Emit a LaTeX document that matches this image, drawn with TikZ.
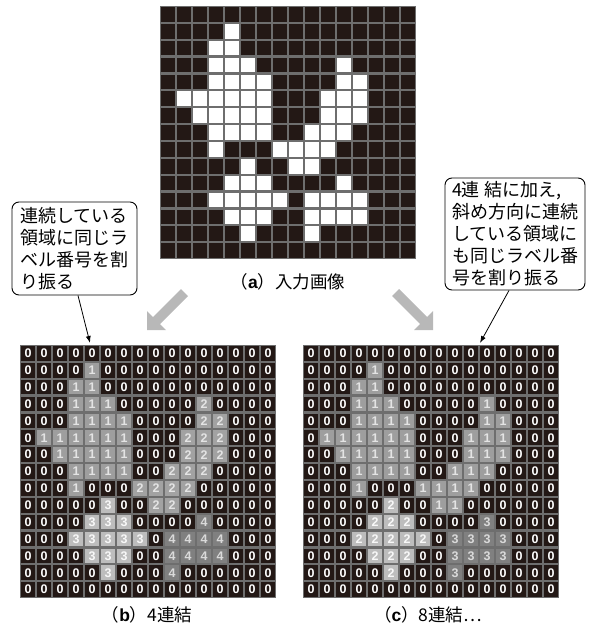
\documentclass[tikz,border=0pt]{standalone}
\usepackage{fontspec}
\setmainfont{Liberation Sans}
\newfontfamily\jp{Noto Sans CJK JP}
\newfontfamily\numf{Liberation Sans}
\usetikzlibrary{arrows.meta}
\definecolor{ink}{HTML}{231815}
\definecolor{gline}{HTML}{6E6E6E}
\definecolor{garrow}{HTML}{B8B8B8}
% (b) fills / texts
\definecolor{bf0}{HTML}{231815}\definecolor{bt0}{HTML}{FFFFFF}
\definecolor{bf1}{HTML}{9E9E9E}\definecolor{bt1}{HTML}{E4E4E4}
\definecolor{bf2}{HTML}{A2A2A2}\definecolor{bt2}{HTML}{E4E4E4}
\definecolor{bf3}{HTML}{BDBDBD}\definecolor{bt3}{HTML}{F8F8F8}
\definecolor{bf4}{HTML}{808080}\definecolor{bt4}{HTML}{DADADA}
% (c) fills / texts
\definecolor{cf0}{HTML}{231815}\definecolor{ct0}{HTML}{FFFFFF}
\definecolor{cf1}{HTML}{9E9E9E}\definecolor{ct1}{HTML}{E4E4E4}
\definecolor{cf2}{HTML}{BDBDBD}\definecolor{ct2}{HTML}{F8F8F8}
\definecolor{cf3}{HTML}{808080}\definecolor{ct3}{HTML}{DADADA}
\def\cw{16}\def\ch{16.87}
\def\griddata{%
{0,0,0,0,0,0,0,0,0,0,0,0,0,0,0,0},%
{0,0,0,0,1,0,0,0,0,0,0,0,0,0,0,0},%
{0,0,0,1,1,0,0,0,0,0,0,0,0,0,0,0},%
{0,0,0,1,1,1,0,0,0,0,0,2,0,0,0,0},%
{0,0,0,1,1,1,1,0,0,0,0,2,2,0,0,0},%
{0,1,1,1,1,1,1,0,0,0,2,2,2,0,0,0},%
{0,0,1,1,1,1,1,0,0,0,2,2,2,0,0,0},%
{0,0,0,1,1,1,1,0,0,2,2,2,0,0,0,0},%
{0,0,0,1,0,0,0,2,2,2,2,0,0,0,0,0},%
{0,0,0,0,0,3,0,0,2,2,0,0,0,0,0,0},%
{0,0,0,0,3,3,3,0,0,0,0,4,0,0,0,0},%
{0,0,0,3,3,3,3,3,0,4,4,4,4,0,0,0},%
{0,0,0,0,3,3,3,0,0,4,4,4,4,0,0,0},%
{0,0,0,0,0,3,0,0,0,4,0,0,0,0,0,0},%
{0,0,0,0,0,0,0,0,0,0,0,0,0,0,0,0}}
\begin{document}
\begin{tikzpicture}[x=1pt,y=-1pt,
  cell/.style={inner sep=0pt,minimum width=13.8pt,minimum height=14.6pt,
    font=\numf\bfseries\fontsize{12.5}{12.5}\selectfont},
  pix/.style={inner sep=0pt,minimum width=13.8pt,minimum height=14.6pt},
  callout/.style={draw=black,line width=0.9pt,rounded corners=7pt,fill=white,
    align=left,inner sep=0pt,font=\jp\fontsize{18}{22}\selectfont},
  pointer/.style={line width=0.8pt,-{Latex[length=7pt,width=5pt]}},
  captext/.style={inner sep=0pt,font=\jp\fontsize{17.5}{17.5}\selectfont},
  bigarrow/.style={fill=garrow}]
\useasboundingbox (0,0) rectangle (592,629);

% (a) input image
\fill[gline] (160,6) rectangle ++(256,253.05);
\foreach \row [count=\r from 0] in \griddata {
  \foreach \v [count=\c from 0] in \row {
    \edef\tc{\ifnum\v>0 white\else ink\fi}
    \node[pix,fill=\tc] (a-\r-\c) at ({160+(\c+0.5)*\cw},{6+(\r+0.5)*\ch}) {};
  }
}
\node[captext] (capa) at (288,282) {（{\numf\bfseries a}）入力画像};

% (b) 4-connectivity
\fill[gline] (20,345) rectangle ++(256,253.05);
\foreach \row [count=\r from 0] in \griddata {
  \foreach \v [count=\c from 0] in \row {
    \node[cell,fill=bf\v,text=bt\v] (b-\r-\c) at ({20+(\c+0.5)*\cw},{345+(\r+0.5)*\ch}) {\v};
  }
}
\node[captext] (capb) at (147,615) {（{\numf\bfseries b}）4連結};

% (c) 8-connectivity
\fill[gline] (303,345) rectangle ++(256,253.05);
\foreach \row [count=\r from 0] in \griddata {
  \foreach \v [count=\c from 0] in \row {
    \edef\m{\ifcase\v\space 0\or 1\or 1\or 2\or 3\fi}
    \node[cell,fill=cf\m,text=ct\m] (c-\r-\c) at ({303+(\c+0.5)*\cw},{345+(\r+0.5)*\ch}) {\m};
  }
}
\node[captext] (capc) at (428,615) {（{\numf\bfseries c}）8連結…};

% gray block arrows
\fill[bigarrow] (147,330) -- (147,311) -- (153,317) -- (181,289) -- (188,296)
  -- (160,324) -- (166,330) -- cycle;
\fill[bigarrow] (433,330) -- (433,311) -- (427,317) -- (399,289) -- (392,296)
  -- (420,324) -- (414,330) -- cycle;

% callouts
\node[callout,minimum width=125pt,minimum height=93pt] (lbox) at (74.5,248.5)
  {連続している\\領域に同じラ\\ベル番号を割\\り振る};
\coordinate (lptr) at (90,343);
\draw[pointer] ([xshift=3.5pt]lbox.south) -- (lptr);

\node[callout,minimum width=140pt,minimum height=112pt] (rbox) at (515,234)
  {4連 結に加え,\\斜め方向に連続\\している領域に\\も同じラベル番\\号を割り振る};
\coordinate (rptr) at (480,343);
\draw[pointer] ([xshift=-6pt]rbox.south) -- (rptr);
\end{tikzpicture}
\end{document}
